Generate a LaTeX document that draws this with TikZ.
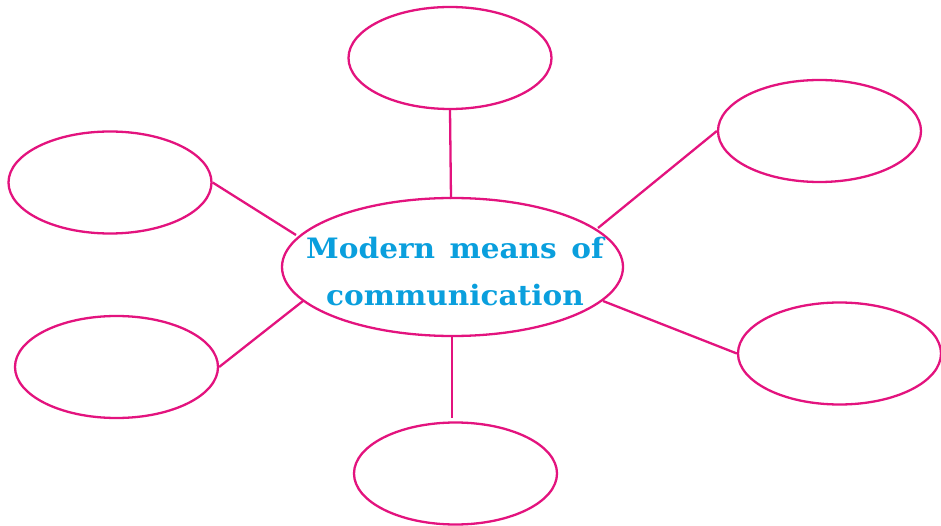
\documentclass[tikz,border=0pt]{standalone}
\usepackage{fontspec}
\newfontfamily\labelfont{DejaVu Serif}
\usetikzlibrary{shapes.geometric}
\definecolor{pinkline}{HTML}{E3137E}
\definecolor{bluetext}{HTML}{0A9FDD}
\begin{document}
\begin{tikzpicture}[x=1pt,y=-1pt,
  oval/.style={ellipse,draw=pinkline,line width=2.3pt,inner sep=0pt,minimum width=203pt,minimum height=102pt},
  link/.style={draw=pinkline,line width=2.3pt}]
\useasboundingbox (0,0) rectangle (941,526);
\node[oval,minimum width=341pt,minimum height=138pt] (c) at (452.5,267) {};
\node[text=bluetext,font=\labelfont\bfseries\fontsize{27}{45.3}\selectfont,align=center,inner sep=0pt,transform shape,xscale=1.094,yscale=1.04] (ct) at (455,271.5) {\makebox[272pt][s]{Modern means of}\\communication};
\node[oval] (t) at (450,58) {};
\node[oval] (ur) at (819.5,131) {};
\node[oval] (l) at (110,182.5) {};
\node[oval] (ll) at (116.5,367) {};
\node[oval] (lr) at (839.5,353.5) {};
\node[oval] (b) at (455.5,473.5) {};
\coordinate (ct1) at (451,199);
\coordinate (cur) at (598,228);
\coordinate (cl) at (296,235);
\coordinate (cll) at (303,301);
\coordinate (clr) at (603,301);
\coordinate (cb) at (452,337);
\coordinate (bend) at (452,418);
\path[link] (t.south) -- (ct1);
\path[link] (cur) -- (ur.west);
\path[link] (l.east) -- (cl);
\path[link] (ll.east) -- (cll);
\path[link] (clr) -- (lr.west);
\path[link] (cb) -- (bend);
\end{tikzpicture}
\end{document}
